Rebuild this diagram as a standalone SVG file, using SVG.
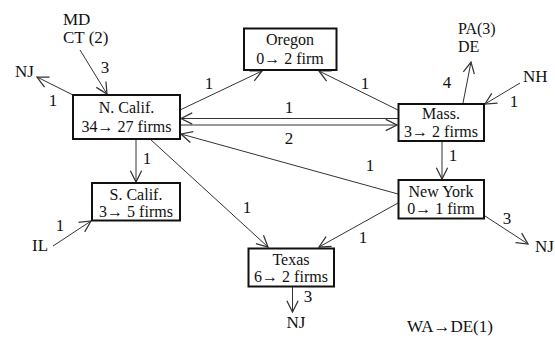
<svg xmlns="http://www.w3.org/2000/svg" width="555" height="338" viewBox="0 0 555 338">
<style>
text{font-family:"Liberation Serif","Times New Roman",Times,"DejaVu Serif","Noto Serif",serif;font-size:17px;fill:#111}
.b{font-size:16px}
.c{text-anchor:middle}
.box{fill:#fff;stroke:#111;stroke-width:2}
.ln{stroke:#333;stroke-width:1;fill:none;marker-end:url(#ah)}
</style>
<defs>
<marker id="ah" markerUnits="userSpaceOnUse" markerWidth="20" markerHeight="20" refX="0" refY="0" viewBox="-12 -8 14 16" orient="auto" overflow="visible">
<path d="M-9,-4.5 L0,0 L-9,4.5" fill="none" stroke="#333" stroke-width="1"/>
</marker>
</defs>
<g id="connectors">
<line class="ln" x1="180" y1="110" x2="262" y2="71"/>
<line class="ln" x1="398" y1="110" x2="319" y2="71"/>
<line class="ln" x1="398" y1="118.5" x2="181" y2="118.5"/>
<line class="ln" x1="180" y1="125" x2="397" y2="125"/>
<line class="ln" x1="398" y1="194" x2="181" y2="134"/>
<line class="ln" x1="150" y1="139" x2="268" y2="247"/>
<line class="ln" x1="398" y1="203" x2="319" y2="247"/>
<line class="ln" x1="136" y1="139" x2="136" y2="182"/>
<line class="ln" x1="53" y1="246" x2="91" y2="221"/>
<line class="ln" x1="80" y1="50" x2="107" y2="94"/>
<line class="ln" x1="73" y1="95" x2="37" y2="77"/>
<line class="ln" x1="463" y1="103" x2="471" y2="62"/>
<line class="ln" x1="520" y1="83" x2="485" y2="104"/>
<line class="ln" x1="442" y1="141" x2="442" y2="179"/>
<line class="ln" x1="485" y1="216" x2="528" y2="244"/>
<line class="ln" x1="292.5" y1="287" x2="292.5" y2="312"/>
<text x="209" y="89" class="c">1</text>
<text x="365" y="89" class="c">1</text>
<text x="289" y="113" class="c">1</text>
<text x="289" y="144" class="c">2</text>
<text x="370" y="171" class="c">1</text>
<text x="247" y="213" class="c">1</text>
<text x="363" y="243" class="c">1</text>
<text x="147" y="164" class="c">1</text>
<text x="60" y="231" class="c">1</text>
<text x="105" y="73" class="c">3</text>
<text x="53" y="106" class="c">1</text>
<text x="447" y="88" class="c">4</text>
<text x="514" y="107" class="c">1</text>
<text x="453" y="161" class="c">1</text>
<text x="507" y="224" class="c">3</text>
<text x="308" y="302" class="c">3</text>
</g>
<g id="ncalif"><rect class="box" x="73" y="95" width="107" height="44"/><text x="126.5" y="113" class="c b">N. Calif.</text><text x="126.5" y="132" class="c b">34→ 27 firms</text></g>
<g id="oregon"><rect class="box" x="244" y="28.5" width="92.5" height="41.5"/><text x="290" y="45" class="c b">Oregon</text><text x="290" y="63.5" class="c b">0→ 2 firm</text></g>
<g id="mass"><rect class="box" x="398.5" y="104" width="85.5" height="37"/><text x="441" y="118.5" class="c b">Mass.</text><text x="441" y="137" class="c b">3→ 2 firms</text></g>
<g id="newyork"><rect class="box" x="398.5" y="180" width="85.5" height="38.5"/><text x="441" y="196.5" class="c b">New York</text><text x="441" y="214" class="c b">0→ 1 firm</text></g>
<g id="scalif"><rect class="box" x="92" y="183" width="88" height="37.5"/><text x="136" y="199.5" class="c b">S. Calif.</text><text x="136" y="217" class="c b">3→ 5 firms</text></g>
<g id="texas"><rect class="box" x="248.5" y="248.5" width="85.5" height="38"/><text x="291" y="264.5" class="c b">Texas</text><text x="291" y="282" class="c b">6→ 2 firms</text></g>
<g id="ext-mdct"><text x="63" y="25">MD</text><text x="63" y="43">CT (2)</text></g>
<g id="ext-nj1"><text x="15" y="77">NJ</text></g>
<g id="ext-il"><text x="32" y="251">IL</text></g>
<g id="ext-pade"><text x="458" y="34" class="b">PA(3)</text><text x="458" y="52" class="b">DE</text></g>
<g id="ext-nh"><text x="523" y="82">NH</text></g>
<g id="ext-nj2"><text x="535" y="252">NJ</text></g>
<g id="ext-nj3"><text x="296" y="328" class="c">NJ</text></g>
<g id="note"><text x="407" y="332">WA→DE(1)</text></g>
</svg>
